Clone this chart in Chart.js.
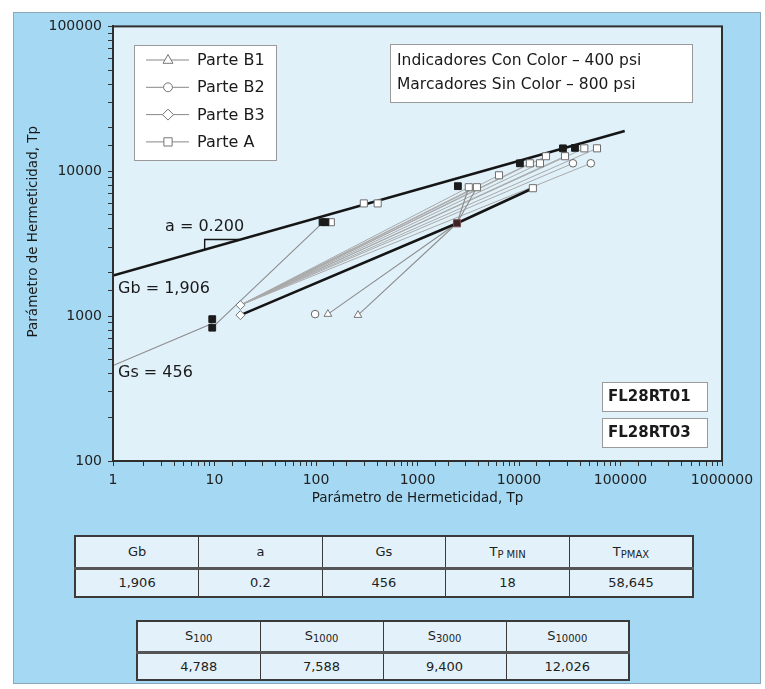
<!DOCTYPE html>
<html><head><meta charset="utf-8">
<script src="https://cdn.jsdelivr.net/npm/chart.js@4.4.0/dist/chart.umd.min.js"></script>
<style>
body{margin:0;background:#fff;width:765px;height:689px;overflow:hidden;font-family:"DejaVu Sans",sans-serif;}
#panel{position:absolute;left:13px;top:12px;width:748px;height:672px;background:#a5d9f3;box-shadow:inset 0 0 0 1px #8ba7b9;}
#wrap{position:absolute;left:0;top:0;width:748px;height:505px;}
table{position:absolute;border-collapse:collapse;background:#e3f2fa;border:2px solid #3a3a3a;table-layout:fixed;}
td{border:1.5px solid #3a3a3a;text-align:center;font-size:13px;color:#1e1e1e;padding:0;}
tr.h td{border-bottom:3px solid #555;}
sub{font-size:10px;vertical-align:-2px;}
</style></head>
<body>
<div id="panel">
  <div id="wrap"><canvas id="c" width="748" height="505"></canvas></div>
  <table id="t1" style="left:61px;top:523px;width:620px;height:63px;"></table>
  <table id="t2" style="left:123px;top:608px;width:494px;height:61px;"></table>
</div>
<script>
// ---- data ----
const gbLineX = [1, 110000], gbLineY = [1906, 19000];
const gsLineX = [1, 9.5], gsLineY = [456, 890];
const slopeX = [8, 8, 17.5], slopeY = [2890, 3380, 3380];
const lowerLineX = [18, 2450, 13700], lowerLineY = [1016, 4375, 7640];
const fanOriginX = 18, fanOriginY = 1191;
const fanTargetX = [3200, 3850, 6350, 12800, 16100, 18450, 28400, 34000, 51000, 44000, 58645];
const fanTargetY = [7760, 7760, 9380, 11350, 11350, 12700, 12700, 11350, 11350, 14400, 14400];
const linkFromX = [9.5, 131, 259, 2450, 2450], linkFromY = [832, 1033, 1016, 4375, 4375];
const linkToX = [118, 2450, 2450, 3200, 3850], linkToY = [4450, 4375, 4375, 7760, 7760];
const aFilledX = [9.5, 9.5, 116, 124, 2500, 10200, 27100, 35600];
const aFilledY = [953, 832, 4450, 4450, 7890, 11350, 14400, 14500];
const aOpenX = [140, 296, 405, 3200, 3850, 6350, 12800, 16100, 18450, 28400, 44000, 58645, 13700];
const aOpenY = [4450, 6000, 6000, 7760, 7760, 9380, 11350, 11350, 12700, 12700, 14400, 14400, 7640];
const b1OpenX = [131, 259], b1OpenY = [1033, 1016];
const b2OpenX = [98, 34000, 51000], b2OpenY = [1033, 11350, 11350];
const b3OpenX = [18, 18], b3OpenY = [1191, 1016];
const b3FilledX = [2450], b3FilledY = [4375];
const legendLabels = ['Parte B1', 'Parte B2', 'Parte B3', 'Parte A'];
const legendStyles = ['triangle', 'circle', 'rectRot', 'rect'];
const infoLines = ['Indicadores Con Color \u2013 400 psi', 'Marcadores Sin Color \u2013 800 psi'];
const idLabels = ['FL28RT01', 'FL28RT03'];
const axisTitle = 'Par\u00e1metro de Hermeticidad, Tp';
const table1Head = ['Gb', 'a', 'Gs', 'T<sub>P MIN</sub>', 'T<sub>PMAX</sub>'];
const table1Vals = ['1,906', '0.2', '456', '18', '58,645'];
const table2Head = ['S<sub>100</sub>', 'S<sub>1000</sub>', 'S<sub>3000</sub>', 'S<sub>10000</sub>'];
const table2Vals = ['4,788', '7,588', '9,400', '12,026'];

// ---- tables ----
function fillTable(id, head, vals, h1, h2){
  const t = document.getElementById(id);
  t.innerHTML = '<tr class="h" style="height:'+h1+'px">' + head.map(s=>'<td>'+s+'</td>').join('') + '</tr>' +
                '<tr style="height:'+h2+'px">' + vals.map(s=>'<td>'+s+'</td>').join('') + '</tr>';
}
fillTable('t1', table1Head, table1Vals, 32, 29);
fillTable('t2', table2Head, table2Vals, 31, 28);

// ---- chart ----
const pts = (xs, ys) => xs.map((x,i)=>({x, y: ys[i]}));
const FONT = "'DejaVu Sans', sans-serif";
Chart.defaults.font.family = FONT;

const datasets = [];
function markers(xs, ys, style, r, fill, stroke){
  datasets.push({data: pts(xs, ys), showLine:false, pointStyle:style, pointRadius:r,
    pointBackgroundColor:fill, pointBorderColor:stroke, pointBorderWidth:1});
}
function line(xs, ys, color, w){
  datasets.push({data: pts(xs, ys), showLine:true, pointRadius:0, borderColor:color, borderWidth:w, fill:false});
}
// markers first (drawn on top)
markers(aFilledX, aFilledY, 'rect', 4.8, '#1b1b1b', '#1b1b1b');
markers(b3FilledX, b3FilledY, 'rect', 5, '#3a2326', '#7a4a50');
markers(aOpenX, aOpenY, 'rect', 5, '#ffffff', '#6d6d6d');
markers(b1OpenX, b1OpenY, 'triangle', 4.5, '#ffffff', '#777');
markers(b2OpenX, b2OpenY, 'circle', 3.8, '#ffffff', '#666');
markers(b3OpenX, b3OpenY, 'rectRot', 4.5, '#ffffff', '#777');
// lines
line(gbLineX, gbLineY, '#151515', 2.6);
line(lowerLineX, lowerLineY, '#151515', 2.6);
line(slopeX, slopeY, '#151515', 1.4);
line(gsLineX, gsLineY, '#8a8a8a', 1.2);
for (let i=0;i<linkFromX.length;i++) line([linkFromX[i], linkToX[i]], [linkFromY[i], linkToY[i]], '#8c8c8c', 1.1);
for (let i=0;i<fanTargetX.length;i++) line([fanOriginX, fanTargetX[i]], [fanOriginY, fanTargetY[i]], '#a9a9a9', 1);

const pow10Label = v => { const l=Math.log10(v); return Math.abs(l-Math.round(l))<1e-6 ? String(Math.round(v)) : ''; };

function drawShape(ctx, style, x, y, r){
  ctx.beginPath();
  if (style==='triangle'){ ctx.moveTo(x, y-r); ctx.lineTo(x+r*0.9, y+r*0.6); ctx.lineTo(x-r*0.9, y+r*0.6); ctx.closePath(); }
  else if (style==='circle'){ ctx.arc(x, y, r*0.8, 0, Math.PI*2); }
  else if (style==='rectRot'){ ctx.moveTo(x, y-r); ctx.lineTo(x+r, y); ctx.lineTo(x, y+r); ctx.lineTo(x-r, y); ctx.closePath(); }
  else { ctx.rect(x-r*0.75, y-r*0.75, r*1.5, r*1.5); }
  ctx.fillStyle='#fff'; ctx.fill(); ctx.strokeStyle='#777'; ctx.lineWidth=1; ctx.stroke();
}

const decor = {
  id:'decor',
  beforeDraw(chart){
    const {ctx, chartArea:a} = chart;
    ctx.save(); ctx.fillStyle='#e1f1fa'; ctx.fillRect(a.left, a.top, a.width, a.height); ctx.restore();
  },
  afterDraw(chart){
    const {ctx, chartArea:a} = chart;
    ctx.save();
    ctx.strokeStyle='#2e2e2e'; ctx.lineWidth=2; ctx.strokeRect(a.left, a.top, a.width, a.height);
    // legend box
    ctx.fillStyle='#fff'; ctx.fillRect(121, 33, 142, 115);
    ctx.strokeStyle='#9a9a9a'; ctx.lineWidth=1; ctx.strokeRect(121.5, 33.5, 142, 115);
    ctx.font = "16px "+FONT; ctx.textBaseline='middle'; ctx.textAlign='left';
    legendLabels.forEach((lab,i)=>{
      const y = 48 + i*27.3;
      ctx.strokeStyle='#888'; ctx.lineWidth=1; ctx.beginPath(); ctx.moveTo(133, y); ctx.lineTo(176, y); ctx.stroke();
      drawShape(ctx, legendStyles[i], 155, y, 5.5);
      ctx.fillStyle='#1a1a1a'; ctx.fillText(lab, 184, y+1);
    });
    // info box
    ctx.fillStyle='#fff'; ctx.fillRect(377, 32, 302, 58);
    ctx.strokeStyle='#9a9a9a'; ctx.strokeRect(377.5, 32.5, 302, 58);
    ctx.fillStyle='#1a1a1a'; ctx.font="15.5px "+FONT;
    infoLines.forEach((t,i)=>ctx.fillText(t, 384, 49 + i*24));
    // ID boxes
    ctx.font="bold 15px "+FONT;
    idLabels.forEach((t,i)=>{
      const top = 370 + i*36;
      ctx.fillStyle='#fff'; ctx.fillRect(589, top, 105, 29);
      ctx.strokeStyle='#9a9a9a'; ctx.strokeRect(589.5, top+0.5, 105, 29);
      ctx.fillStyle='#1a1a1a'; ctx.fillText(t, 595, top+15);
    });
    // annotations
    ctx.font="16px "+FONT;
    ctx.fillText('a = 0.200', 152, 215);
    ctx.fillText('Gb = 1,906', 105, 277);
    ctx.fillText('Gs = 456', 105, 361);
    // axis titles
    ctx.font="13.5px "+FONT; ctx.textAlign='center';
    ctx.fillText(axisTitle, (a.left+a.right)/2, 486);
    ctx.translate(20, (a.top+a.bottom)/2 - 12); ctx.rotate(-Math.PI/2);
    ctx.fillText(axisTitle, 0, 0);
    ctx.restore();
  }
};

new Chart(document.getElementById('c'), {
  type:'scatter',
  data:{datasets},
  options:{
    responsive:false, animation:false, devicePixelRatio:1,
    layout:{padding:{left:0, top:14, right:39, bottom:0}},
    plugins:{legend:{display:false}, tooltip:{enabled:false}},
    scales:{
      x:{type:'logarithmic', min:1, max:1000000,
         afterFit(s){ s.height = 56; },
         grid:{display:true, drawOnChartArea:false, tickLength:5, color:'#333'},
         border:{display:true, color:'#2e2e2e', width:2},
         ticks:{autoSkip:false, maxRotation:0, minRotation:0, padding:6, color:'#222', font:{size:14}, callback:pow10Label}},
      y:{type:'logarithmic', min:100, max:100000,
         afterFit(s){ s.width = 100; },
         grid:{display:true, drawOnChartArea:false, tickLength:5, color:'#333'},
         border:{display:true, color:'#2e2e2e', width:2},
         ticks:{autoSkip:false, padding:6, color:'#222', font:{size:14}, callback:pow10Label}}
    }
  },
  plugins:[decor]
});
</script>
</body></html>
